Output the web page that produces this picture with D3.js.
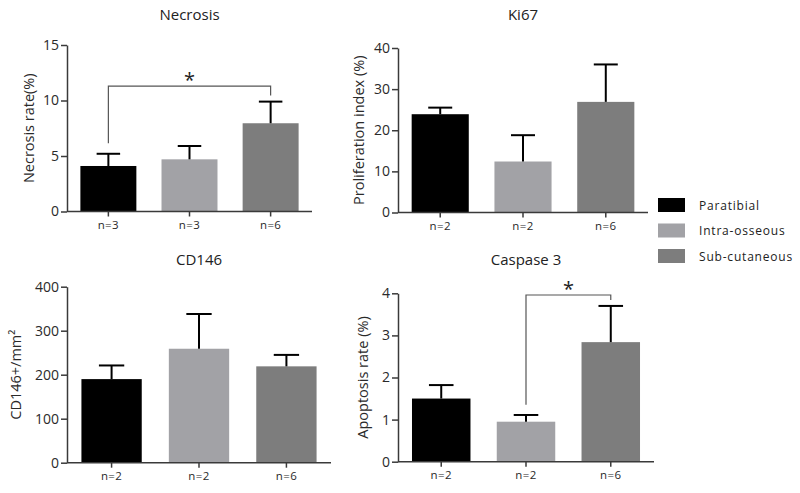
<!DOCTYPE html>
<html><head><meta charset="utf-8">
<script src="https://cdn.jsdelivr.net/npm/d3@7"></script>
<style>
body{margin:0;background:#fff;}
text{font-family:"Open Sans",sans-serif;}
</style></head>
<body><svg id="c" width="800" height="493"></svg>
<script>
const groups = ["Paratibial", "Intra-osseous", "Sub-cutaneous"];
const colors = ["#000000", "#a2a2a6", "#7d7d7d"];

const necrosisN = ["n=3", "n=3", "n=6"];
const necrosisMean = [4.1, 4.7, 7.95];
const necrosisErr = [5.2, 5.9, 9.9];
const necrosisTicks = [0, 5, 10, 15];

const ki67N = ["n=2", "n=2", "n=6"];
const ki67Mean = [23.9, 12.4, 26.9];
const ki67Err = [25.5, 18.8, 36.0];
const ki67Ticks = [0, 10, 20, 30, 40];

const cd146N = ["n=2", "n=2", "n=6"];
const cd146Mean = [190, 259, 219];
const cd146Err = [221, 338, 245];
const cd146Ticks = [0, 100, 200, 300, 400];

const caspN = ["n=2", "n=2", "n=6"];
const caspMean = [1.5, 0.95, 2.84];
const caspErr = [1.82, 1.11, 3.7];
const caspTicks = [0, 1, 2, 3, 4];

// significance brackets: [from group, to group, bracket level, left end, right end]
const necrosisSig = [0, 2, 11.3, 6.15, 10.45];
const caspSig = [1, 2, 3.96, 1.35, 3.84];

const panels = [
  {title:"Necrosis", ylab:"Necrosis rate(%)", n:necrosisN, mean:necrosisMean, err:necrosisErr, ticks:necrosisTicks,
   x0:67, x1:312, yTop:45, yBot:211.5, titleY:20, ylabX:28, sig:necrosisSig},
  {title:"Ki67", ylab:"Proliferation index (%)", n:ki67N, mean:ki67Mean, err:ki67Err, ticks:ki67Ticks,
   x0:398, x1:648, yTop:48, yBot:212.5, titleY:20, ylabX:358, sig:null},
  {title:"CD146", ylab:"CD146+/mm²", n:cd146N, mean:cd146Mean, err:cd146Err, ticks:cd146Ticks,
   x0:67, x1:331, yTop:286.7, yBot:462.7, titleY:265, ylabX:15, sig:null},
  {title:"Caspase 3", ylab:"Apoptosis rate (%)", n:caspN, mean:caspMean, err:caspErr, ticks:caspTicks,
   x0:398, x1:654, yTop:293.3, yBot:461.7, titleY:265, ylabX:362, sig:caspSig}
];

const svg = d3.select("#c");
const axisCol = "#3a3a3a";

panels.forEach(p => {
  const g = svg.append("g");
  const x = d3.scaleBand().domain(d3.range(3)).range([p.x0, p.x1]).paddingInner(0.31).paddingOuter(0.165);
  const y = d3.scaleLinear().domain([0, d3.max(p.ticks)]).range([p.yBot, p.yTop]);

  // title
  g.append("text").attr("x", (p.x0 + p.x1) / 2).attr("y", p.titleY)
    .attr("text-anchor", "middle").attr("font-size", 15).attr("fill", "#222").text(p.title);

  // y label
  g.append("text").attr("transform", `translate(${p.ylabX},${(p.yTop + p.yBot) / 2}) rotate(-90)`)
    .attr("text-anchor", "middle").attr("dominant-baseline", "central")
    .attr("font-size", 14.5).attr("fill", "#2a2a2a").text(p.ylab);

  // bars
  g.selectAll("rect.bar").data(p.mean).join("rect").attr("class", "bar")
    .attr("x", (d, i) => x(i)).attr("width", x.bandwidth())
    .attr("y", d => y(d)).attr("height", d => y(0) - y(d))
    .attr("fill", (d, i) => colors[i]);

  // error bars
  const capW = x.bandwidth() * 0.42;
  p.mean.forEach((m, i) => {
    const cx = x(i) + x.bandwidth() / 2;
    g.append("line").attr("x1", cx).attr("x2", cx).attr("y1", y(m)).attr("y2", y(p.err[i]))
      .attr("stroke", "#000").attr("stroke-width", 2);
    g.append("line").attr("x1", cx - capW / 2).attr("x2", cx + capW / 2).attr("y1", y(p.err[i])).attr("y2", y(p.err[i]))
      .attr("stroke", "#000").attr("stroke-width", 2);
  });

  // y axis
  const ya = g.append("g").attr("transform", `translate(${p.x0},0)`)
    .call(d3.axisLeft(y).tickValues(p.ticks).tickFormat(d3.format("d")).tickSize(6).tickSizeOuter(0).tickPadding(2));
  ya.select(".domain").attr("stroke", axisCol).attr("stroke-width", 1.5);
  ya.selectAll(".tick line").attr("stroke", axisCol).attr("stroke-width", 1.5);
  ya.selectAll(".tick text").attr("font-size", 14).attr("fill", "#2a2a2a").attr("font-family", "Open Sans, sans-serif");

  // x axis
  const xa = g.append("g").attr("transform", `translate(0,${p.yBot})`)
    .call(d3.axisBottom(x).tickSize(5).tickSizeOuter(0).tickPadding(4).tickFormat(i => p.n[i]));
  xa.select(".domain").attr("stroke", axisCol).attr("stroke-width", 1.5)
    .attr("d", `M${p.x0},0H${p.x1}`);
  xa.selectAll(".tick line").attr("stroke", axisCol).attr("stroke-width", 1.5);
  xa.selectAll(".tick text").attr("font-size", 11.5).attr("letter-spacing", 0.4).attr("fill", "#2a2a2a").attr("font-family", "Open Sans, sans-serif");

  // significance
  if (p.sig) {
    const [a, b, lv, le, re] = p.sig;
    const xa1 = x(a) + x.bandwidth() / 2, xb1 = x(b) + x.bandwidth() / 2;
    g.append("path").attr("d", `M${xa1},${y(le)}V${y(lv)}H${xb1}V${y(re)}`)
      .attr("fill", "none").attr("stroke", "#555").attr("stroke-width", 1.2);
    g.append("text").attr("x", (xa1 + xb1) / 2).attr("y", y(lv) + 1)
      .attr("text-anchor", "middle").attr("font-size", 20).attr("fill", "#222").text("*");
  }
});

// legend
const lg = svg.append("g");
groups.forEach((name, i) => {
  const yy = 198 + i * 25.5;
  lg.append("rect").attr("x", 658).attr("y", yy).attr("width", 27).attr("height", 14).attr("fill", colors[i]);
  lg.append("text").attr("x", 699).attr("y", yy + 7).attr("dominant-baseline", "central")
    .attr("font-size", 12).attr("letter-spacing", 0.8).attr("fill", "#222").text(name);
});
</script></body></html>
